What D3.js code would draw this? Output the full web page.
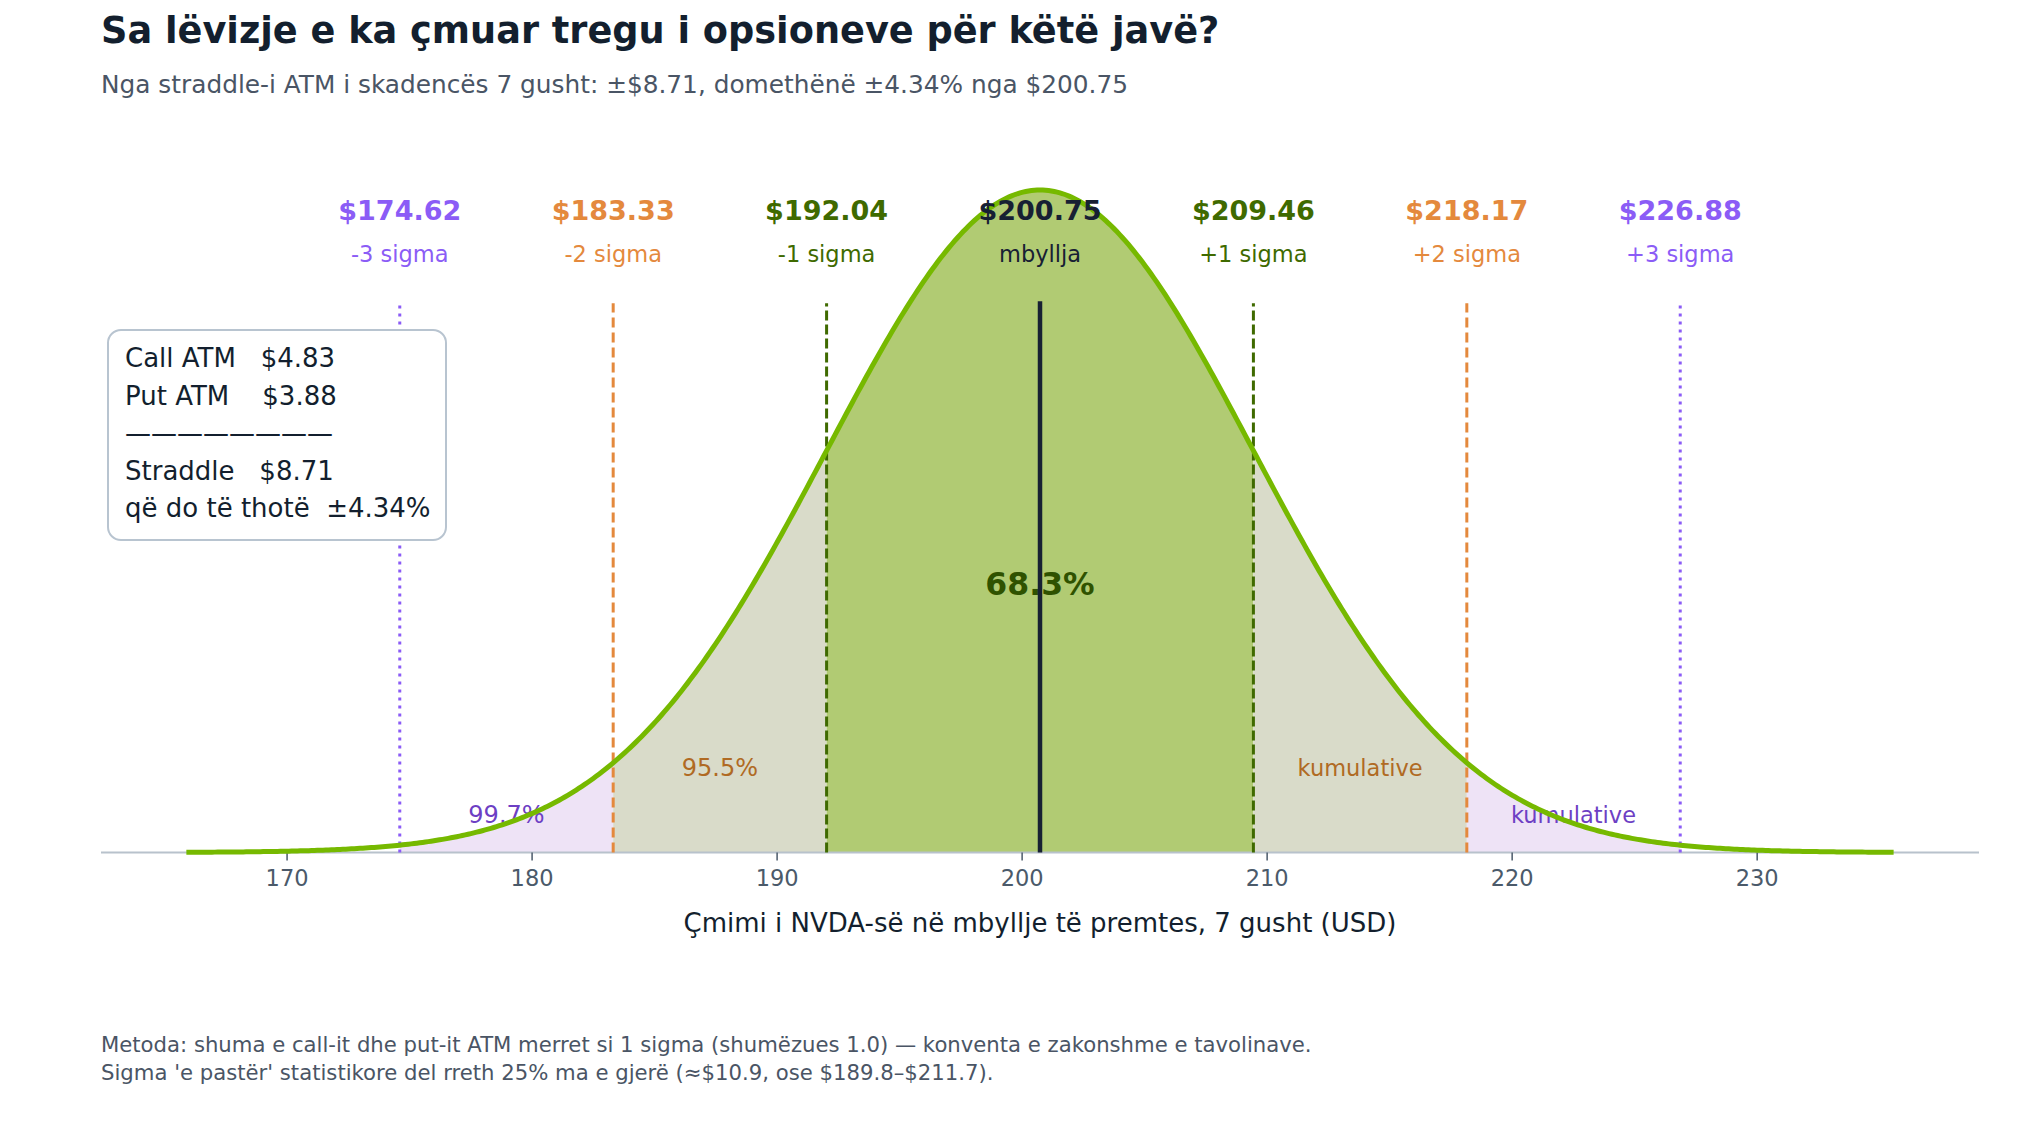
<!DOCTYPE html>
<html>
<head>
<meta charset="utf-8">
<script src="https://cdn.jsdelivr.net/npm/d3@7"></script>
<style>
  html, body { margin: 0; padding: 0; background: #ffffff; }
  svg text { font-family: "DejaVu Sans", sans-serif; white-space: pre; }
</style>
</head>
<body>
<svg id="chart" width="2040" height="1122"></svg>
<script>
// ---------------- DATA ----------------
const spotPrice = 200.75;
const callATM = 4.83;
const putATM = 3.88;
const straddle = 8.71;           // 1 sigma
const movePct = 4.34;
const sigmaMultiples = [-3, -2, -1, 0, 1, 2, 3];
const levelPrices = [174.62, 183.33, 192.04, 200.75, 209.46, 218.17, 226.88];
const levelLabels = ["-3 sigma", "-2 sigma", "-1 sigma", "mbyllja", "+1 sigma", "+2 sigma", "+3 sigma"];
const tickValues = [170, 180, 190, 200, 210, 220, 230];
const bandRanges = [[-3, -2], [-2, -1], [-1, 1], [1, 2], [2, 3]];
const regionTexts = ["99.7%", "95.5%", "68.3%", "kumulative", "kumulative"];
const regionSigmaPos = [-2.5, -1.5, 0, 1.5, 2.5];

const titleText = "Sa lëvizje e ka çmuar tregu i opsioneve për këtë javë?";
const subtitleText = "Nga straddle-i ATM i skadencës 7 gusht: ±$8.71, domethënë ±4.34% nga $200.75";
const xAxisTitle = "Çmimi i NVDA-së në mbyllje të premtes, 7 gusht (USD)";
const footerLines = [
  "Metoda: shuma e call-it dhe put-it ATM merret si 1 sigma (shumëzues 1.0) — konventa e zakonshme e tavolinave.",
  "Sigma 'e pastër' statistikore del rreth 25% ma e gjerë (≈$10.9, ose $189.8–$211.7)."
];
const boxLines = [
  "Call ATM   $" + callATM.toFixed(2),
  "Put ATM    $" + putATM.toFixed(2),
  "————————",
  "Straddle   $" + straddle.toFixed(2),
  "që do të thotë  ±" + movePct.toFixed(2) + "%"
];

// ---------------- STYLE ----------------
const levelColors = ["#8b5cf6", "#e4893d", "#3f6a00", "#172033", "#3f6a00", "#e4893d", "#8b5cf6"];
const levelDash = ["3,5", "10,5", "10,4", null, "10,4", "10,5", "3,5"];
const bandFills = ["#eee3f6", "#d9dbc9", "#b1cb73", "#d9dbc9", "#eee3f6"];
const regionColors = ["#6d3fc4", "#b06a23", "#2f5200", "#b06a23", "#6d3fc4"];

const svg = d3.select("#chart");
const plotLeft = 101, plotRight = 1979, baseY = 852.5, peakY = 190;

const sigma = straddle;
const pdf = v => Math.exp(-0.5 * ((v - spotPrice) / sigma) ** 2) / (sigma * Math.sqrt(2 * Math.PI));
const peak = pdf(spotPrice);

const xLo = spotPrice - 4 * sigma, xHi = spotPrice + 4 * sigma;
const pad = (xHi - xLo) * 0.05;
const x = d3.scaleLinear().domain([xLo - pad, xHi + pad]).range([plotLeft, plotRight]);
const y = d3.scaleLinear().domain([0, peak]).range([baseY, peakY]);

// curve samples
const curvePts = d3.range(0, 601).map(i => {
  const v = xLo + (xHi - xLo) * i / 600;
  return [v, pdf(v)];
});

// fills
const area = d3.area().x(d => x(d[0])).y0(y(0)).y1(d => y(d[1]));
bandRanges.forEach((r, i) => {
  const a = spotPrice + r[0] * sigma, b = spotPrice + r[1] * sigma;
  const pts = [[a, pdf(a)], ...curvePts.filter(p => p[0] > a && p[0] < b), [b, pdf(b)]];
  svg.append("path").attr("d", area(pts)).attr("fill", bandFills[i]);
});

// axis
const axisG = svg.append("g").attr("transform", `translate(0,${baseY})`)
  .call(d3.axisBottom(x).tickValues(tickValues).tickSize(8).tickPadding(10).tickFormat(d3.format("d")));
axisG.select(".domain").attr("stroke", "#b8c2cc").attr("stroke-width", 2).attr("d", `M${plotLeft},0H${plotRight}`);
axisG.selectAll(".tick line").attr("stroke", "#4b5a6a").attr("stroke-width", 1.5);
axisG.selectAll(".tick text").attr("fill", "#4b5a6a").attr("font-size", 22.5)
  .attr("font-family", "DejaVu Sans");

// region labels (under lines & curve)
const regionFrac = [0.044, 0.115, 0.388, 0.115, 0.044];
regionTexts.forEach((t, i) => {
  const bold = i === 2;
  svg.append("text")
    .attr("x", x(spotPrice + regionSigmaPos[i] * sigma))
    .attr("y", y(peak * regionFrac[i]))
    .attr("text-anchor", "middle")
    .attr("fill", regionColors[i])
    .attr("font-size", bold ? 31.5 : (i === 3 || i === 4 ? 22.5 : 24))
    .attr("font-weight", bold ? "bold" : "normal")
    .text(t);
});

// vertical level lines
const lineTopFrac = 0.829;
levelPrices.forEach((p, i) => {
  const isMid = sigmaMultiples[i] === 0;
  svg.append("line")
    .attr("x1", x(p)).attr("x2", x(p))
    .attr("y1", y(0)).attr("y2", isMid ? y(peak * 0.832) : y(peak * lineTopFrac))
    .attr("stroke", levelColors[i])
    .attr("stroke-width", isMid ? 4.5 : 3)
    .attr("stroke-dasharray", levelDash[i]);
});

// curve
svg.append("path")
  .attr("d", d3.line().x(d => x(d[0])).y(d => y(d[1]))(curvePts))
  .attr("fill", "none").attr("stroke", "#76b900").attr("stroke-width", 5);

// top labels
levelPrices.forEach((p, i) => {
  svg.append("text")
    .attr("x", x(p)).attr("y", y(peak * 0.955))
    .attr("text-anchor", "middle").attr("font-weight", "bold").attr("font-size", 27)
    .attr("fill", levelColors[i]).text("$" + p.toFixed(2));
  svg.append("text")
    .attr("x", x(p)).attr("y", y(peak * 0.891))
    .attr("text-anchor", "middle").attr("font-size", 22.5)
    .attr("fill", levelColors[i]).text(levelLabels[i]);
});

// info box
svg.append("rect").attr("x", 108).attr("y", 330).attr("width", 338).attr("height", 210)
  .attr("rx", 13).attr("fill", "#ffffff").attr("stroke", "#b8c4d0").attr("stroke-width", 2);
boxLines.forEach((t, i) => {
  svg.append("text").attr("x", 125).attr("y", 367 + i * 37.5)
    .attr("font-size", 26).attr("fill", "#131f2e").text(t);
});

// titles
svg.append("text").attr("x", 101).attr("y", 43).attr("font-size", 36.7).attr("font-weight", "bold")
  .attr("fill", "#131f2e").text(titleText);
svg.append("text").attr("x", 101).attr("y", 93).attr("font-size", 24.8)
  .attr("fill", "#4a5565").text(subtitleText);
svg.append("text").attr("x", (plotLeft + plotRight) / 2).attr("y", 932).attr("text-anchor", "middle")
  .attr("font-size", 26).attr("fill", "#131f2e").text(xAxisTitle);
footerLines.forEach((t, i) => {
  svg.append("text").attr("x", 101).attr("y", 1052 + i * 28).attr("font-size", 21.2)
    .attr("fill", "#4a5565").text(t);
});
</script>
</body>
</html>
